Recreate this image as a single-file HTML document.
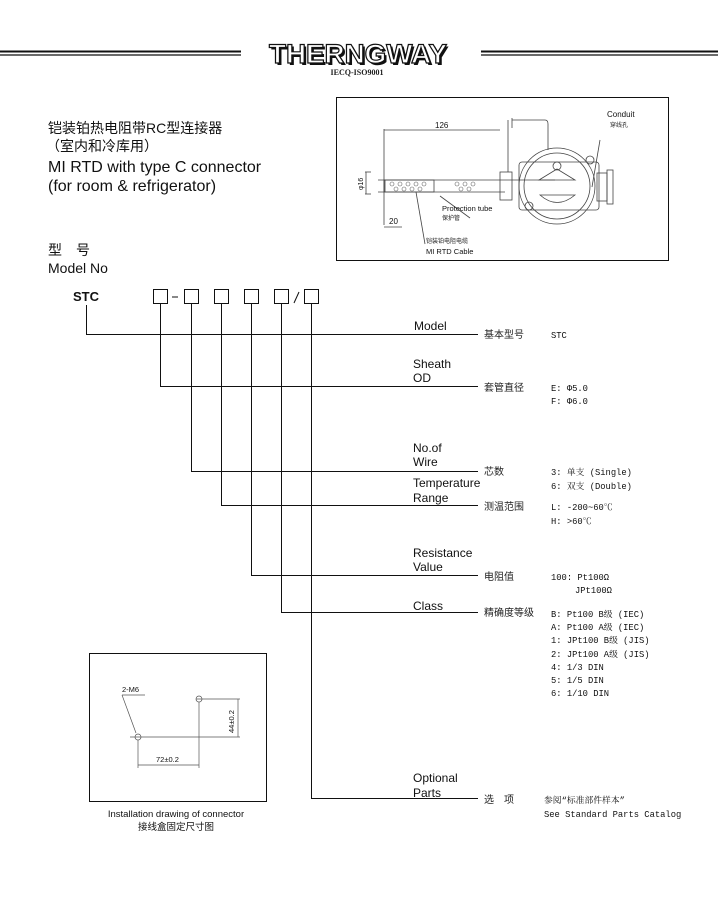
<!DOCTYPE html>
<html><head><meta charset="utf-8"><style>
html,body{margin:0;padding:0;background:#fff;}
svg{display:block;}
.s{font-family:"Liberation Sans","Noto Sans CJK SC",sans-serif;fill:#111;}
.m{font-family:"Liberation Mono","Noto Serif CJK SC",monospace;fill:#111;font-size:8.8px;}
.c{font-family:"Noto Sans CJK SC",sans-serif;fill:#222;font-size:10px;}
</style></head><body>
<svg width="718" height="908" viewBox="0 0 718 908" xmlns="http://www.w3.org/2000/svg">
<g stroke="#111"><line x1="0" y1="51.5" x2="241" y2="51.5" stroke-width="2"/><line x1="0" y1="55" x2="241" y2="55" stroke-width="1.2"/>
<line x1="481" y1="51.5" x2="718" y2="51.5" stroke-width="2"/><line x1="481" y1="55" x2="718" y2="55" stroke-width="1.2"/></g>
<text x="360" y="65" text-anchor="middle" font-family="Liberation Sans" font-weight="bold" font-size="27" fill="#111" textLength="178" lengthAdjust="spacingAndGlyphs">THERNGWAY</text>
<text x="358" y="63" text-anchor="middle" font-family="Liberation Sans" font-weight="bold" font-size="27" fill="#fff" stroke="#111" stroke-width="1.2" textLength="178" lengthAdjust="spacingAndGlyphs">THERNGWAY</text>
<text x="357" y="75" text-anchor="middle" font-family="Liberation Serif" font-weight="bold" font-size="8" fill="#222">IECQ-ISO9001</text>
<text class="s" x="48" y="133" font-size="14">铠装铂热电阻带RC型连接器</text>
<text class="s" x="46" y="151" font-size="14">（室内和冷库用）</text>
<text class="s" x="48" y="172" font-size="16">MI RTD with type C connector</text>
<text class="s" x="48" y="191" font-size="16">(for room &amp; refrigerator)</text>
<text class="s" x="48" y="255" font-size="14">型　号</text>
<text class="s" x="48" y="273" font-size="14">Model No</text>
<rect x="336.5" y="97.5" width="332" height="163" fill="none" stroke="#111" stroke-width="1"/>
<g stroke="#444" fill="none" stroke-width="0.8">
<line x1="384" y1="129" x2="384" y2="225"/><line x1="384" y1="130" x2="500" y2="130"/>
<line x1="378" y1="180" x2="555" y2="180"/><line x1="378" y1="192" x2="505" y2="192"/><line x1="385" y1="180" x2="385" y2="192"/>
<rect x="384" y="180" width="50" height="12"/>
<line x1="365" y1="172" x2="371" y2="172"/><line x1="365" y1="194" x2="371" y2="194"/><line x1="366" y1="172" x2="366" y2="194"/>
<line x1="384" y1="227" x2="402" y2="227"/>
<rect x="500" y="172" width="12" height="28"/>
<circle cx="557" cy="186" r="38"/><circle cx="557" cy="186" r="33"/>
<path d="M508 120 L508 172 M512 118 L512 128 M512 120 L545 120 Q548 120 548 124 L548 150"/>
<rect x="519" y="162" width="80" height="48" rx="3"/>
<rect x="597" y="173" width="10" height="28"/><rect x="607" y="170" width="6" height="34"/>
<circle cx="529" cy="206" r="4"/><circle cx="590" cy="160" r="4"/>
<path d="M539 180 L557 169 L575 180 Z"/><path d="M540 195 Q557 210 575 195 Z"/><circle cx="557" cy="166" r="4"/>
<line x1="600" y1="140" x2="592" y2="187"/><line x1="440" y1="196" x2="470" y2="218"/><line x1="416" y1="192" x2="425" y2="244"/>
</g>
<g fill="none" stroke="#666" stroke-width="0.6">
<circle cx="392" cy="184" r="2"/><circle cx="400" cy="184" r="2"/><circle cx="408" cy="184" r="2"/><circle cx="416" cy="184" r="2"/><circle cx="424" cy="184" r="2"/>
<circle cx="396" cy="189" r="2"/><circle cx="404" cy="189" r="2"/><circle cx="412" cy="189" r="2"/><circle cx="420" cy="189" r="2"/>
<circle cx="457" cy="184" r="2"/><circle cx="465" cy="184" r="2"/><circle cx="473" cy="184" r="2"/><circle cx="461" cy="189" r="2"/><circle cx="469" cy="189" r="2"/>
</g>
<text class="s" x="435" y="128" font-size="8">126</text>
<text class="s" x="363" y="190" font-size="7" transform="rotate(-90 363 190)">φ16</text>
<text class="s" x="389" y="224" font-size="8">20</text>
<text class="s" x="442" y="211" font-size="7.5">Protection tube</text>
<text class="c" x="442" y="220" style="font-size:6px">保护管</text>
<text class="c" x="426" y="243" style="font-size:6px">铠装铂电阻电缆</text>
<text class="s" x="426" y="254" font-size="7.5">MI RTD Cable</text>
<text class="s" x="607" y="117" font-size="8">Conduit</text>
<text class="c" x="610" y="127" style="font-size:6px">穿线孔</text>
<text class="s" x="73" y="301" font-size="13" font-weight="bold">STC</text>
<g fill="none" stroke="#111" stroke-width="1">
<rect x="153.5" y="289.5" width="14" height="14"/><rect x="184.5" y="289.5" width="14" height="14"/>
<rect x="214.5" y="289.5" width="14" height="14"/><rect x="244.5" y="289.5" width="14" height="14"/>
<rect x="274.5" y="289.5" width="14" height="14"/><rect x="304.5" y="289.5" width="14" height="14"/>
<line x1="172" y1="297" x2="178" y2="297"/><line x1="294" y1="303" x2="299" y2="292"/>
<path d="M86.5 305 V334.5 H478"/>
<path d="M160.5 304 V386.5 H478"/>
<path d="M191.5 304 V471.5 H478"/>
<path d="M221.5 304 V505.5 H478"/>
<path d="M251.5 304 V575.5 H478"/>
<path d="M281.5 304 V612.5 H478"/>
<path d="M311.5 304 V798.5 H478"/>
</g>
<g class="s" font-size="12">
<text x="414" y="330">Model</text>
<text x="413" y="368">Sheath</text><text x="413" y="382">OD</text>
<text x="413" y="452">No.of</text><text x="413" y="466">Wire</text>
<text x="413" y="487">Temperature</text><text x="413" y="502">Range</text>
<text x="413" y="557">Resistance</text><text x="413" y="571">Value</text>
<text x="413" y="610">Class</text>
<text x="413" y="782">Optional</text><text x="413" y="797">Parts</text>
</g>
<g class="c">
<text x="484" y="338">基本型号</text>
<text x="484" y="391">套管直径</text>
<text x="484" y="475">芯数</text>
<text x="484" y="510">测温范围</text>
<text x="484" y="580">电阻值</text>
<text x="484" y="616">精确度等级</text>
<text x="484" y="803">选　项</text>
</g>
<g class="m">
<text x="551" y="338">STC</text>
<text x="551" y="391">E: Φ5.0</text><text x="551" y="404">F: Φ6.0</text>
<text x="551" y="475">3: 单支 (Single)</text><text x="551" y="489">6: 双支 (Double)</text>
<text x="551" y="510">L: -200~60℃</text><text x="551" y="524">H: &gt;60℃</text>
<text x="551" y="580">100: Pt100Ω</text><text x="575" y="593">JPt100Ω</text>
<text x="551" y="617">B: Pt100 B级 (IEC)</text>
<text x="551" y="630">A: Pt100 A级 (IEC)</text>
<text x="551" y="643">1: JPt100 B级 (JIS)</text>
<text x="551" y="657">2: JPt100 A级 (JIS)</text>
<text x="551" y="670">4: 1/3 DIN</text>
<text x="551" y="683">5: 1/5 DIN</text>
<text x="551" y="696">6: 1/10 DIN</text>
<text x="544" y="803">参阅“标准部件样本”</text>
<text x="544" y="817">See Standard Parts Catalog</text>
</g>
<rect x="89.5" y="653.5" width="177" height="148" fill="none" stroke="#111" stroke-width="1"/>
<g fill="none" stroke="#555" stroke-width="0.7">
<circle cx="138" cy="737" r="3"/><circle cx="199" cy="699" r="3"/>
<line x1="130" y1="737" x2="240" y2="737"/><line x1="196" y1="699" x2="240" y2="699"/>
<line x1="138" y1="740" x2="138" y2="768"/><line x1="199" y1="702" x2="199" y2="768"/>
<line x1="138" y1="765" x2="199" y2="765"/><line x1="238" y1="699" x2="238" y2="737"/>
<path d="M122 695 L145 695 M122 695 L136 733"/>
</g>
<text class="s" x="122" y="692" font-size="7.5">2-M6</text>
<text class="s" x="156" y="762" font-size="7.5">72±0.2</text>
<text class="s" x="234" y="733" font-size="7.5" transform="rotate(-90 234 733)">44±0.2</text>
<text class="s" x="176" y="817" text-anchor="middle" font-size="9.5">Installation drawing of connector</text>
<text class="s" x="176" y="830" text-anchor="middle" font-size="9.5">接线盒固定尺寸图</text>
</svg>
</body></html>
